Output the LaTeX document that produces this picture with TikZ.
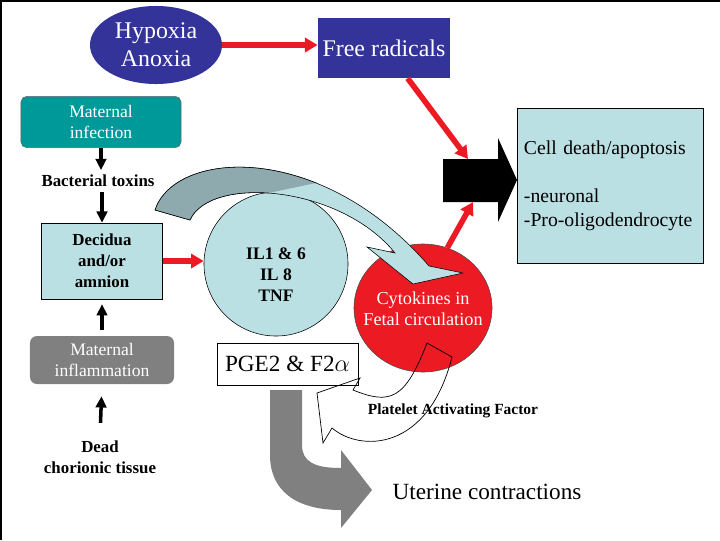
\documentclass[tikz,border=0pt]{standalone}
\usepackage{fontspec}
\setmainfont{Liberation Serif}
\usetikzlibrary{arrows.meta, shapes.geometric, positioning}

\definecolor{hypblue}{RGB}{51,51,153}
\definecolor{infteal}{RGB}{0,153,153}
\definecolor{paleblue}{RGB}{187,224,228}
\definecolor{darkpale}{RGB}{143,170,174}
\definecolor{cytored}{RGB}{236,26,34}
\definecolor{midgray}{RGB}{128,128,128}

\newcommand{\cytobend}{(155,210) .. controls (175,150) and (320,140) .. (429,266) -- (463,273) -- (413,284) -- (367,247) -- (395,253) .. controls (340,185) and (210,175) .. (190,220) -- cycle}

\tikzset{
    redline/.style={draw=cytored, line width=4pt, -{Triangle[length=9pt,width=10pt]}},
    blkline/.style={line width=2.5pt, -{Triangle[length=8pt,width=7.5pt]}},
    whitetext/.style={text=white, align=center},
    boldtext/.style={align=center, font=\bfseries\fontsize{12}{15}\selectfont}
}

\begin{document}
\begin{tikzpicture}[x=0.025cm, y=-0.025cm]
            \useasboundingbox (0,0) rectangle (720,540);
            \draw[line width=1.7pt] (1.2,540) -- (1.2,1.2) -- (720,1.2);

            \node[ellipse, fill=hypblue, whitetext, inner sep=0pt, minimum width=3.3cm, minimum height=1.95cm, font=\fontsize{17}{20}\selectfont] (hypox) at (156,45) {Hypoxia\\Anoxia};
            \node[fill=hypblue, whitetext, minimum width=3.3cm, minimum height=1.5cm, font=\fontsize{17}{20}\selectfont] (free) at (384,48) {Free radicals};
            \node[rounded corners=4pt, fill=infteal, draw=black!60, whitetext, minimum width=4cm, minimum height=1.28cm, font=\fontsize{12.5}{15.5}\selectfont] (infect) at (101,122) {Maternal\\infection};
            \node[boldtext] (bact) at (98,181) {Bacterial toxins};
            \node[draw, fill=paleblue, boldtext, minimum width=3.03cm, minimum height=1.9cm] (decid) at (102,261) {Decidua\\and/or\\amnion};
            \node[rounded corners=5pt, fill=midgray, whitetext, minimum width=3.6cm, minimum height=1.2cm, font=\fontsize{12.5}{15}\selectfont] (inflam) at (102,360) {Maternal\\inflammation};
            \node[boldtext] (dead) at (100,457) {Dead\\chorionic tissue};

            \node[draw, fill=paleblue, minimum width=4.65cm, minimum height=3.875cm, text width=4.3cm, align=left, font=\fontsize{14}{17}\selectfont] (death) at (610,185.5) {Cell death/apoptosis\\[17pt]-neuronal\\-Pro-oligodendrocyte};
            \fill (443,159) -- (498,159) -- (498,138) -- (517,180) -- (498,222) -- (498,202) -- (443,202) -- cycle;
            \coordinate (blktop) at (468,159);
            \coordinate (blkbot) at (473,202);

            \node[circle, draw, fill=paleblue, minimum size=3.6cm] (ilcyt) at (276,264) {};
            \node[boldtext, font=\bfseries\fontsize{12.5}{15}\selectfont] (iltext) at (276,275) {IL1 \& 6\\IL 8\\TNF};
            \node[ellipse, draw=black!70, fill=cytored, minimum width=3.45cm, minimum height=3.2cm] (cyto) at (423,308) {};

            \fill[paleblue, draw=black, line width=0.4pt] \cytobend;
            \begin{scope}
                \clip (140,150) -- (330,150) -- (330,180) -- (245,198) -- (180,235) -- (140,235) -- cycle;
                \fill[darkpale, draw=black, line width=0.4pt] \cytobend;
            \end{scope}

            \node[whitetext, font=\fontsize{13}{15}\selectfont] (cytotext) at (423,309) {Cytokines in\\Fetal circulation};
            \node[draw, fill=white, minimum width=3.525cm, minimum height=1.05cm, font=\fontsize{16.5}{20}\selectfont] (pge) at (287.5,364) {PGE2 \& F2$\alpha$};

            \draw[line width=0.5pt] (427,343) .. controls (405,400) and (390,405) .. (353,390) -- (360,378) -- (317,393) -- (323,443) -- (332,428) .. controls (360,452) and (428,452) .. (452,357) -- cycle;
            \node[font=\bfseries\fontsize{11}{13}\selectfont] (paf) at (453,411) {Platelet Activating Factor};

            \fill[midgray] (270,390) -- (302,390) -- (302,445) .. controls (302,462) and (315,468) .. (341,468) -- (341,450) -- (372,490) -- (341,528) -- (341,510) .. controls (295,510) and (270,490) .. (270,455) -- cycle;
            \node[font=\fontsize{16.5}{20}\selectfont] (uter) at (487,492) {Uterine contractions};

            \draw[redline] (hypox.east) -- (hypox.east -| free.west);
            \draw[redline] (decid.east) -- (decid.east -| ilcyt.west);
            \draw[redline] (free.-52) -- (blktop);
            \draw[redline] (cyto.68) -- (blkbot);

            \draw[blkline] (infect.south) -- (infect.south |- bact.north);
            \draw[blkline] (bact.south -| decid.north) -- (decid.north);
            \draw[blkline, shorten <=4pt, shorten >=3.5pt] (inflam.north) -- (decid.south);
            \draw[blkline, shorten <=9pt, shorten >=8.5pt] (dead.north) -- (inflam.south);
\end{tikzpicture}
\end{document}
